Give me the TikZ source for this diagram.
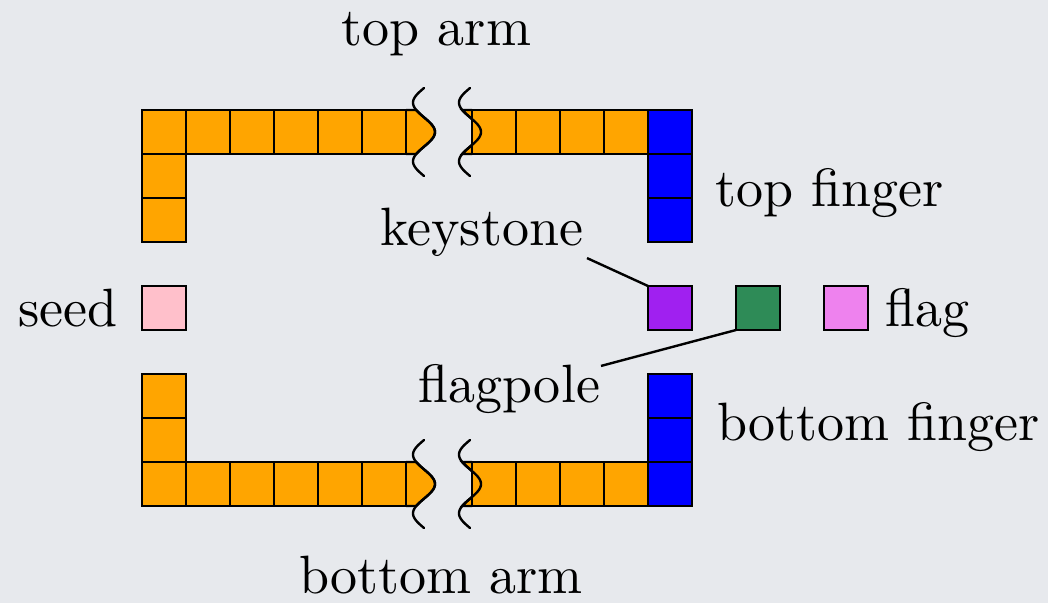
\documentclass[tikz,border=0pt]{standalone}
\usepackage{graphicx}
\definecolor{bgc}{RGB}{231,233,237}
\definecolor{orangec}{HTML}{FFA500}
\definecolor{bluec}{HTML}{0000FF}
\definecolor{purplec}{HTML}{A020F0}
\definecolor{greenc}{HTML}{2E8B57}
\definecolor{violetc}{HTML}{EE82EE}
\definecolor{pinkc}{HTML}{FFC0CB}
\newcommand{\bigtxt}[1]{\scalebox{5.4}{#1}}
\begin{document}
\begin{tikzpicture}[x=1pt,y=-1pt,
  cell/.style={draw=black,line width=2.4pt,minimum size=44pt,inner sep=0pt,outer sep=0pt,fill=orangec},
  lbl/.style={inner sep=0pt,outer sep=0pt},
  brk/.style={line width=2.4pt,line cap=round},
  part/.style={draw=black,fill=orangec,line width=2.4pt},
  conn/.style={line width=2.4pt}]
\useasboundingbox (0,0) rectangle (1048,603);
\fill[bgc] (0,0) rectangle (1048,603);

% partial cells at the breaks
\foreach \r [evaluate=\r as \ra using \r-22, evaluate=\r as \rb using \r+22, evaluate=\r as \rt using \r-44] in {132,484}{
  \filldraw[part] (406,\ra) -- plot[domain=\ra:\rb,samples=40] ({424-11*sin(6.136*(\x-\rt))},\x) -- (406,\rb);
  \filldraw[part] (472,\ra) -- plot[domain=\ra:\rb,samples=40] ({470-11*sin(6.136*(\x-\rt))},\x) -- (472,\rb);
}

% arms
\foreach \cx [count=\i] in {164,208,252,296,340,384,494,538,582,626}{
  \node[cell] (t\i) at (\cx,132) {};
  \node[cell] (b\i) at (\cx,484) {};
}
\node[cell] (tl1) at (164,176) {};
\node[cell] (tl2) at (164,220) {};
\node[cell] (bl1) at (164,396) {};
\node[cell] (bl2) at (164,440) {};
% fingers
\foreach \cy [count=\i] in {132,176,220}{
  \node[cell,fill=bluec] (tf\i) at (670,\cy) {};
}
\foreach \cy [count=\i] in {396,440,484}{
  \node[cell,fill=bluec] (bf\i) at (670,\cy) {};
}
% single tiles
\node[cell,fill=pinkc] (seed) at (164,308) {};
\node[cell,fill=purplec] (key) at (670,308) {};
\node[cell,fill=greenc] (pole) at (758,308) {};
\node[cell,fill=violetc] (flag) at (846,308) {};

% break squiggles
\foreach \r [evaluate=\r as \rt using \r-44, evaluate=\r as \rbb using \r+44] in {132,484}{
  \draw[brk] plot[domain=\rt:\rbb,samples=80] ({424-11*sin(6.136*(\x-\rt))},\x);
  \draw[brk] plot[domain=\rt:\rbb,samples=80] ({470-11*sin(6.136*(\x-\rt))},\x);
}

% labels
\node[lbl,anchor=base] (toparm) at (436.5,45) {\bigtxt{top arm}};
\node[lbl,anchor=base] (botarm) at (441,593) {\bigtxt{bottom arm}};
\node[lbl,anchor=base west] (topfinger) at (715,206) {\bigtxt{top finger}};
\node[lbl,anchor=base west] (botfinger) at (717,440) {\bigtxt{bottom finger}};
\node[lbl,anchor=base west] (seedlbl) at (18,326) {\bigtxt{seed}};
\node[lbl,anchor=base west] (flaglbl) at (885,326) {\bigtxt{flag}};
\node[lbl,anchor=base east] (keylbl) at (583,245) {\bigtxt{keystone}};
\node[lbl,anchor=base east] (polelbl) at (600,402) {\bigtxt{flagpole}};

% connectors
\draw[conn] ([shift={(4,2)}]keylbl.south east) -- (key.north west);
\draw[conn] ([shift={(1,2)}]polelbl.north east) -- (pole.south west);
\end{tikzpicture}
\end{document}
